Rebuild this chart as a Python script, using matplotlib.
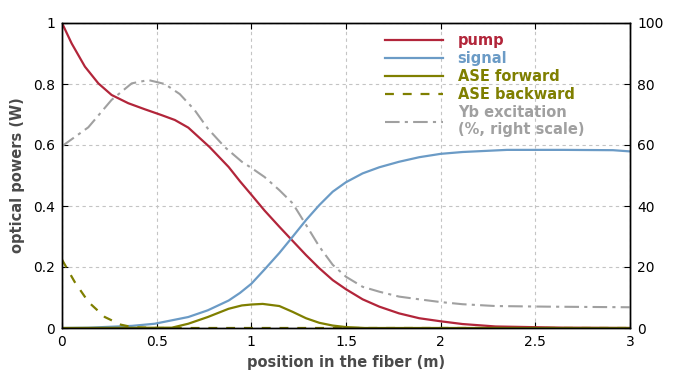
import matplotlib
matplotlib.use("Agg")
import matplotlib.pyplot as plt

# ---- data ----
pump_x = [0, 0.051, 0.121, 0.192, 0.262, 0.35, 0.438, 0.526, 0.596, 0.667, 0.78, 0.88, 0.94, 1.0,
          1.07, 1.148, 1.21, 1.289, 1.359, 1.43, 1.5, 1.588, 1.676, 1.78, 1.887, 2.0, 2.115, 2.29,
          2.65, 3.0]
pump_y = [1.0, 0.933, 0.857, 0.802, 0.764, 0.737, 0.717, 0.698, 0.682, 0.657, 0.593, 0.528, 0.481, 0.437,
          0.385, 0.332, 0.291, 0.239, 0.196, 0.157, 0.127, 0.094, 0.070, 0.048, 0.032, 0.022, 0.013, 0.005,
          0.001, 0.0]

signal_x = [0, 0.14, 0.37, 0.49, 0.667, 0.77, 0.88, 0.94, 1.0, 1.07, 1.148, 1.21, 1.289, 1.359,
            1.43, 1.5, 1.588, 1.676, 1.78, 1.887, 2.0, 2.115, 2.35, 2.65, 2.91, 3.0]
signal_y = [0, 0.001, 0.007, 0.014, 0.036, 0.058, 0.09, 0.115, 0.145, 0.192, 0.246, 0.293, 0.354, 0.403,
            0.447, 0.478, 0.507, 0.527, 0.545, 0.560, 0.571, 0.577, 0.584, 0.584, 0.583, 0.579]

asef_x = [0, 0.58, 0.667, 0.77, 0.88, 0.95, 1.0, 1.06, 1.148, 1.218, 1.289, 1.359, 1.43, 1.5, 1.6, 3.0]
asef_y = [0, 0.001, 0.014, 0.036, 0.063, 0.074, 0.077, 0.079, 0.072, 0.053, 0.032, 0.017, 0.008, 0.003, 0, 0]

aseb_x = [0, 0.067, 0.14, 0.226, 0.31, 0.37, 0.5, 3.0]
aseb_y = [0.224, 0.151, 0.085, 0.036, 0.011, 0.003, 0, 0]

yb_x = [0, 0.139, 0.262, 0.368, 0.456, 0.543, 0.622, 0.7, 0.77, 0.86, 0.95, 1.0, 1.07, 1.148, 1.218,
        1.289, 1.359, 1.43, 1.5, 1.588, 1.676, 1.78, 1.887, 2.0, 2.115, 2.29, 2.56, 3.0]
yb_y = [59.6, 65.8, 74.8, 80.2, 81.3, 80.0, 76.7, 71.5, 65.4, 59.3, 54.5, 52.5, 49.5, 45.2, 40.9,
        33.8, 26.7, 20.7, 16.8, 13.5, 11.9, 10.3, 9.4, 8.5, 7.8, 7.2, 7.0, 6.8]

x_ticks = [0, 0.5, 1, 1.5, 2, 2.5, 3]
x_ticklabels = ["0", "0.5", "1", "1.5", "2", "2.5", "3"]
yl_ticks = [0, 0.2, 0.4, 0.6, 0.8, 1]
yl_ticklabels = ["0", "0.2", "0.4", "0.6", "0.8", "1"]
yr_ticks = [0, 20, 40, 60, 80, 100]

# ---- style ----
C_PUMP = "#b2253a"
C_SIG = "#6b9bc6"
C_ASE = "#7f7f00"
C_YB = "#a0a0a0"

plt.rcParams["font.family"] = ["DejaVu Sans"]

fig = plt.figure(figsize=(7, 3.75), dpi=100)
ax = fig.add_axes([62 / 700, 1 - 328 / 375, 568 / 700, 305 / 375])
ax2 = ax.twinx()

l1, = ax.plot(pump_x, pump_y, color=C_PUMP, lw=1.6, label="pump")
l2, = ax.plot(signal_x, signal_y, color=C_SIG, lw=1.6, label="signal")
l5, = ax2.plot(yb_x, yb_y, color=C_YB, lw=1.5, dashes=(7, 2.5, 1.5, 2.5),
               label="Yb excitation\n(%, right scale)")
l4, = ax.plot(aseb_x, aseb_y, color=C_ASE, lw=1.6, dashes=(4, 4), label="ASE backward")
l3, = ax.plot(asef_x, asef_y, color=C_ASE, lw=1.6, label="ASE forward")

ax.set_xlim(0, 3)
ax.set_ylim(0, 1)
ax2.set_ylim(0, 100)
ax.set_xticks(x_ticks)
ax.set_xticklabels(x_ticklabels)
ax.set_yticks(yl_ticks)
ax.set_yticklabels(yl_ticklabels)
ax2.set_yticks(yr_ticks)

ax.grid(True, color="#c4c4c4", linestyle=(0, (3, 3)), linewidth=0.8)
ax.set_axisbelow(True)

ax.tick_params(direction="in", top=True, length=4, labelsize=10, pad=5, colors="black")
ax2.tick_params(direction="in", length=4, labelsize=10, pad=5)
for a in (ax, ax2):
    for s in a.spines.values():
        s.set_linewidth(1.0)

ax.set_xlabel("position in the fiber (m)", fontsize=10.5, fontweight="bold", color="#4a4a4a", labelpad=4)
ax.set_ylabel("optical powers (W)", fontsize=10.5, fontweight="bold", color="#4a4a4a", labelpad=6)

leg = ax2.legend(handles=[l1, l2, l3, l4, l5], loc="upper left",
                 bbox_to_anchor=(0.558, 0.985), frameon=False,
                 handlelength=4.0, handletextpad=1.0, labelspacing=0.2,
                 borderaxespad=0, prop={"weight": "bold", "size": 10.5},
                 labelcolor="linecolor")

fig.savefig("out.png", dpi=100)
